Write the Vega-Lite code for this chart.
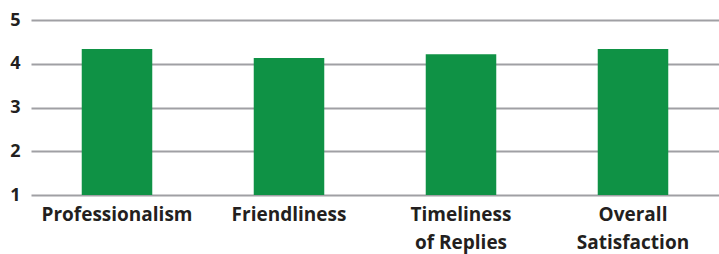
{
  "$schema": "https://vega.github.io/schema/vega-lite/v6.json",
  "width": 688,
  "height": 175,
  "autosize": {"type": "none"},
  "padding": {"left": 31, "top": 20, "right": 0, "bottom": 59},
  "background": "white",
  "config": {"view": {"stroke": null}},
  "data": {"values": [
    {"category": "Professionalism", "score": 4.34},
    {"category": "Friendliness", "score": 4.13},
    {"category": "Timeliness|of Replies", "score": 4.22},
    {"category": "Overall|Satisfaction", "score": 4.34}
  ]},
  "mark": {"type": "bar", "color": "#0f9245"},
  "encoding": {
    "x": {
      "field": "category", "type": "nominal", "sort": null,
      "scale": {"paddingInner": 0.59, "paddingOuter": 0.295},
      "axis": {
        "title": null, "labelAngle": 0, "domain": false, "ticks": false,
        "labelExpr": "split(datum.label, '|')",
        "labelFont": "Open Sans", "labelFontWeight": "bold", "labelFontSize": 19,
        "labelColor": "#231f20", "labelPadding": 10, "labelLineHeight": 28,
        "labelBaseline": "top"
      }
    },
    "y": {
      "field": "score", "type": "quantitative",
      "scale": {"domain": [1, 5], "nice": false, "zero": false},
      "axis": {
        "title": null, "values": [1, 2, 3, 4, 5], "domain": false, "ticks": false,
        "grid": true, "gridColor": "#a0a0a4", "gridWidth": 2,
        "labelFont": "Open Sans", "labelFontWeight": "bold", "labelFontSize": 18,
        "labelColor": "#231f20", "labelPadding": 11
      }
    },
    "y2": {"datum": 1}
  }
}
